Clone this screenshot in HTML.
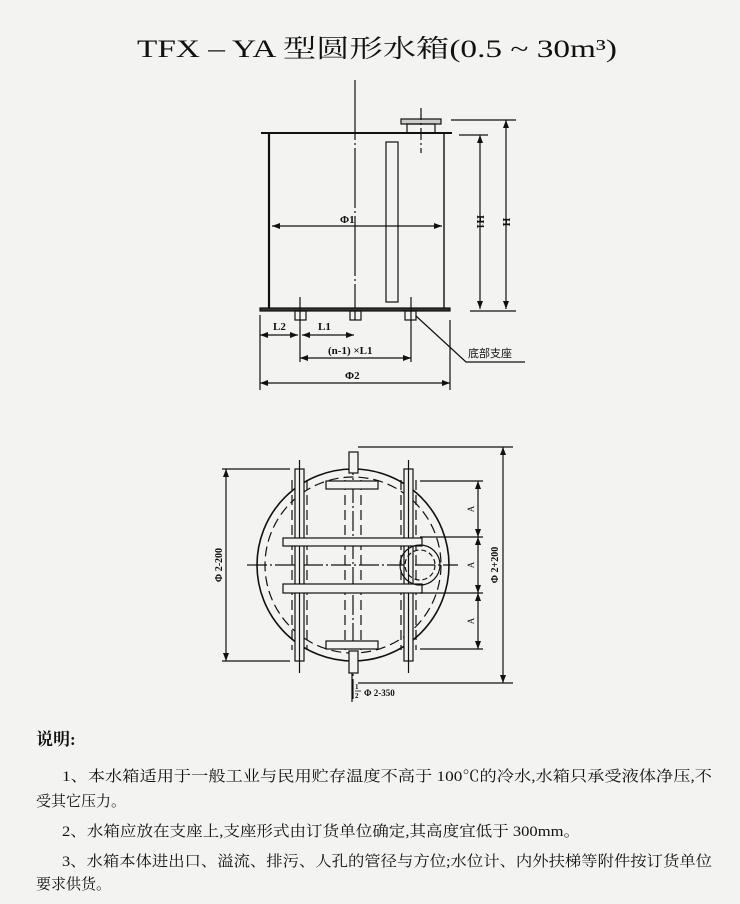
<!DOCTYPE html>
<html><head><meta charset="utf-8"><style>
html,body{margin:0;padding:0;background:#f3f3f1;}
svg{display:block}
</style></head><body>
<svg width="740" height="904" viewBox="0 0 740 904" xmlns="http://www.w3.org/2000/svg" font-family="Liberation Serif, Noto Serif CJK SC, serif">
<defs>
<marker id="a" markerWidth="8" markerHeight="6" refX="8" refY="3" orient="auto-start-reverse" markerUnits="userSpaceOnUse"><path d="M0,0 L8,3 L0,6 z" fill="#111"/></marker>
</defs>
<rect width="740" height="904" fill="#f3f3f1"/>
<text x="137" y="57" font-size="25" textLength="480" lengthAdjust="spacingAndGlyphs" fill="#111">TFX – YA 型圆形水箱(0.5 ~ 30m³)</text>

<g stroke="#111" fill="none" stroke-width="1.2">
<!-- front view -->
<line x1="355" y1="80" x2="355" y2="320" stroke-dasharray="60,3,2,3"/>
<line x1="261" y1="133" x2="452" y2="133" stroke-width="2"/>
<line x1="269" y1="133" x2="269" y2="309" stroke-width="2.2"/>
<line x1="444" y1="133" x2="444" y2="309" stroke-width="1.4"/>
<rect x="260" y="308" width="190" height="3" fill="#333"/>
<rect x="386" y="142" width="12" height="160"/>
<rect x="401" y="119" width="40" height="5" fill="#ccc"/>
<rect x="407" y="124" width="28" height="9"/>
<line x1="421" y1="108" x2="421" y2="153" stroke-dasharray="12,3,2,3"/>
<rect x="295" y="311" width="11" height="9"/>
<rect x="350" y="311" width="11" height="9"/>
<rect x="405" y="311" width="11" height="9"/>
<line x1="300" y1="297" x2="300" y2="362"/>
<line x1="411" y1="297" x2="411" y2="362"/>
<line x1="260" y1="315" x2="260" y2="390"/>
<line x1="450" y1="320" x2="450" y2="390"/>
<line x1="272" y1="226" x2="442" y2="226" marker-start="url(#a)" marker-end="url(#a)"/>
<line x1="260" y1="335" x2="298" y2="335" marker-start="url(#a)" marker-end="url(#a)"/>
<line x1="302" y1="335" x2="354" y2="335" marker-start="url(#a)" marker-end="url(#a)"/>
<line x1="300" y1="358" x2="411" y2="358" marker-start="url(#a)" marker-end="url(#a)"/>
<line x1="260" y1="383" x2="450" y2="383" marker-start="url(#a)" marker-end="url(#a)"/>
<line x1="459" y1="135" x2="488" y2="135"/>
<line x1="451" y1="120" x2="516" y2="120"/>
<line x1="470" y1="311" x2="516" y2="311"/>
<line x1="480" y1="135" x2="480" y2="309" marker-start="url(#a)" marker-end="url(#a)"/>
<line x1="506" y1="120" x2="506" y2="309" marker-start="url(#a)" marker-end="url(#a)"/>
<polyline points="416,316 466,362 525,362"/>

<!-- top view -->
<circle cx="353" cy="565" r="96" stroke-width="1.6"/>
<circle cx="353" cy="565" r="88" stroke-dasharray="10,5"/>
<line x1="247" y1="565" x2="458" y2="565" stroke-dasharray="20,3,2,3"/>
<line x1="353" y1="455" x2="353" y2="700" stroke-dasharray="20,3,2,3"/>
<rect x="295" y="469" width="9" height="192" fill="#f3f3f1"/>
<rect x="404" y="469" width="9" height="192" fill="#f3f3f1"/>
<line x1="299.5" y1="460" x2="299.5" y2="673"/>
<line x1="408.5" y1="460" x2="408.5" y2="673"/>
<line x1="292" y1="480" x2="292" y2="650" stroke-dasharray="10,5"/>
<line x1="307" y1="480" x2="307" y2="650" stroke-dasharray="10,5"/>
<line x1="345" y1="480" x2="345" y2="650" stroke-dasharray="10,5"/>
<line x1="361" y1="480" x2="361" y2="650" stroke-dasharray="10,5"/>
<line x1="401" y1="480" x2="401" y2="650" stroke-dasharray="10,5"/>
<line x1="416" y1="480" x2="416" y2="650" stroke-dasharray="10,5"/>
<rect x="349" y="452" width="9" height="21" fill="#f3f3f1"/>
<rect x="349" y="651" width="9" height="22" fill="#f3f3f1"/>
<rect x="326" y="481" width="52" height="8" fill="#f3f3f1"/>
<rect x="326" y="641" width="52" height="8" fill="#f3f3f1"/>
<rect x="283" y="538" width="139" height="8" fill="#f3f3f1"/>
<rect x="283" y="584" width="139" height="9" fill="#f3f3f1"/>
<circle cx="420" cy="565" r="20"/>
<circle cx="420" cy="565" r="15" stroke-dasharray="5,3"/>
<line x1="222" y1="469" x2="290" y2="469"/>
<line x1="222" y1="661" x2="290" y2="661"/>
<line x1="226" y1="469" x2="226" y2="661" marker-start="url(#a)" marker-end="url(#a)"/>
<line x1="420" y1="481" x2="483" y2="481"/>
<line x1="420" y1="537" x2="483" y2="537"/>
<line x1="420" y1="593" x2="483" y2="593"/>
<line x1="420" y1="649" x2="483" y2="649"/>
<line x1="478" y1="481" x2="478" y2="537" marker-start="url(#a)" marker-end="url(#a)"/>
<line x1="478" y1="537" x2="478" y2="593" marker-start="url(#a)" marker-end="url(#a)"/>
<line x1="478" y1="593" x2="478" y2="649" marker-start="url(#a)" marker-end="url(#a)"/>
<line x1="358" y1="447" x2="513" y2="447"/>
<line x1="358" y1="683" x2="513" y2="683"/>
<line x1="503" y1="447" x2="503" y2="683" marker-start="url(#a)" marker-end="url(#a)"/>
<line x1="352" y1="673" x2="352" y2="702"/>
</g>

<g fill="#111" font-size="11" font-weight="bold">
<text x="340" y="223">Φ1</text>
<text x="273" y="330">L2</text>
<text x="318" y="330">L1</text>
<text x="328" y="354">(n-1) ×L1</text>
<text x="345" y="379">Φ2</text>
<text x="468" y="357" font-size="11" font-weight="normal" font-family="Liberation Sans, Noto Sans CJK SC, sans-serif">底部支座</text>
<text transform="translate(477,222) rotate(90)" text-anchor="middle">H1</text>
<text transform="translate(503,222) rotate(90)" text-anchor="middle">H</text>
<text transform="translate(222,565) rotate(-90)" text-anchor="middle" font-size="10">Φ 2-200</text>
<text transform="translate(498,565) rotate(-90)" text-anchor="middle" font-size="10">Φ 2+200</text>
<text transform="translate(474,509) rotate(-90)" text-anchor="middle" font-size="9" font-weight="normal">A</text>
<text transform="translate(474,565) rotate(-90)" text-anchor="middle" font-size="9" font-weight="normal">A</text>
<text transform="translate(474,621) rotate(-90)" text-anchor="middle" font-size="9" font-weight="normal">A</text>
<text x="355" y="689" font-size="7">1</text>
<line x1="355" y1="691" x2="361" y2="691" stroke="#111" stroke-width="0.8"/>
<text x="355" y="698" font-size="7">2</text>
<text x="364" y="696" font-size="9">Φ 2-350</text>
</g>

<g fill="#111" font-family="Liberation Serif, Noto Serif CJK SC, serif" font-size="15">
<text x="36" y="745" font-size="17" font-weight="bold">说明:</text>
<text x="62" y="781" textLength="650" lengthAdjust="spacingAndGlyphs">1、本水箱适用于一般工业与民用贮存温度不高于 100℃的冷水,水箱只承受液体净压,不</text>
<text x="36" y="806">受其它压力。</text>
<text x="62" y="836" textLength="518" lengthAdjust="spacingAndGlyphs">2、水箱应放在支座上,支座形式由订货单位确定,其高度宜低于 300mm。</text>
<text x="62" y="866" textLength="650" lengthAdjust="spacingAndGlyphs">3、水箱本体进出口、溢流、排污、人孔的管径与方位;水位计、内外扶梯等附件按订货单位</text>
<text x="36" y="889">要求供货。</text>
</g>
</svg>
</body></html>
